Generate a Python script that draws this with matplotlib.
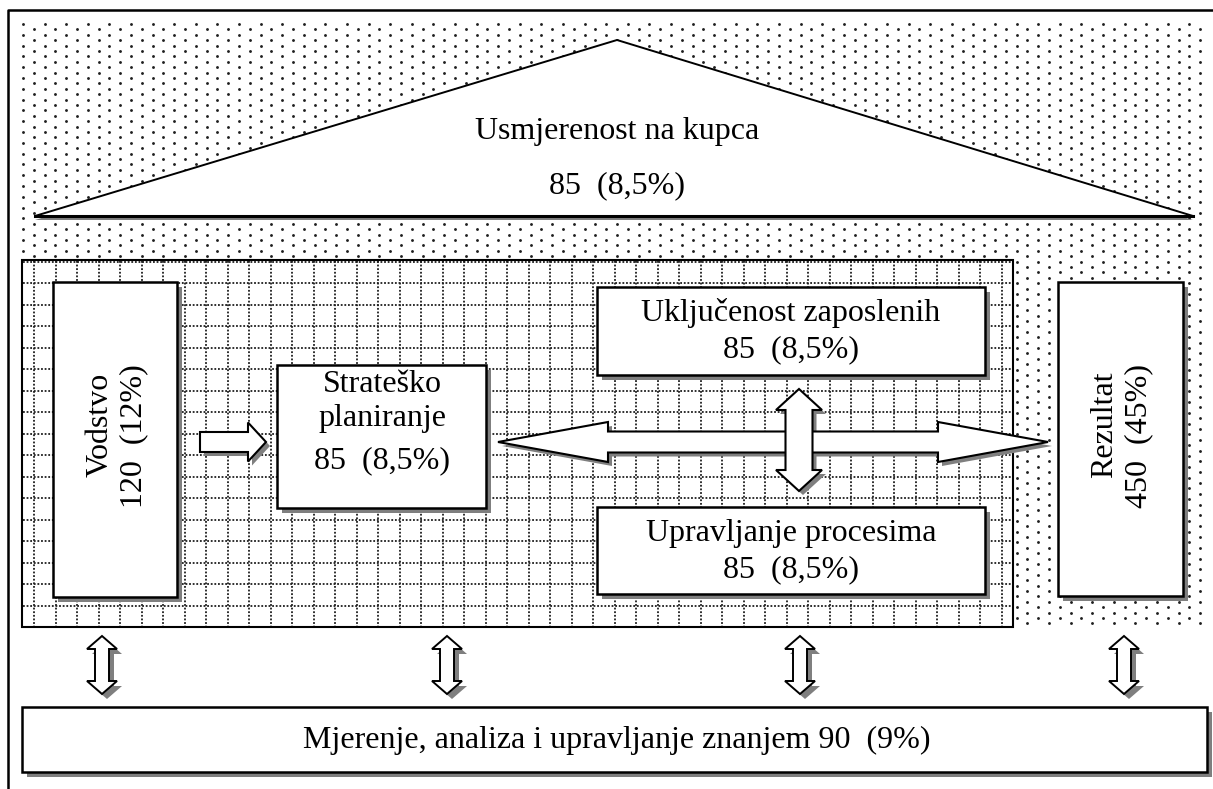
import numpy as np
import matplotlib
matplotlib.use("Agg")
import matplotlib.pyplot as plt
from matplotlib.patches import Polygon, Rectangle

# chart content
ELEMENTS = [
    "Usmjerenost na kupca",
    "Vodstvo",
    "Strateško planiranje",
    "Uključenost zaposlenih",
    "Upravljanje procesima",
    "Rezultat",
    "Mjerenje, analiza i upravljanje znanjem",
]
POINTS = [85, 120, 85, 85, 85, 450, 90]
TOTAL = 1000

W, H = 1213, 789
SHADOW = "#7f7f7f"
DOT = "#1e1e1e"
FONT = "Liberation Serif"
FS = 23


def share(p):
    return f"{p * 100 / TOTAL:g}".replace(".", ",") + "%"


def score(i):
    return f"{POINTS[i]}  ({share(POINTS[i])})"


def box(ax, x0, y0, x1, y1, shadow=5, lw=1.8, z=5):
    if shadow:
        ax.add_patch(Rectangle((x0 + shadow, y0 + shadow), x1 - x0, y1 - y0,
                               facecolor=SHADOW, edgecolor="none", zorder=z))
    ax.add_patch(Rectangle((x0, y0), x1 - x0, y1 - y0, facecolor="white",
                           edgecolor="black", lw=lw, zorder=z + 0.5))


def shape(ax, pts, shadow=(4, 4), lw=1.5, z=7):
    pts = np.asarray(pts, dtype=float)
    ax.add_patch(Polygon(pts + np.array(shadow), closed=True, facecolor=SHADOW,
                         edgecolor="none", zorder=z))
    ax.add_patch(Polygon(pts, closed=True, facecolor="white", edgecolor="black",
                         lw=lw, joinstyle="miter", zorder=z + 0.5))


def h_arrow(x0, x1, yc, body, head, head_len, left_head=True):
    # x0 = left end (tip if left_head), x1 = right tip
    pts = []
    if left_head:
        pts += [(x0, yc), (x0 + head_len, yc - head), (x0 + head_len, yc - body)]
    else:
        pts += [(x0, yc - body)]
    pts += [(x1 - head_len, yc - body), (x1 - head_len, yc - head), (x1, yc),
            (x1 - head_len, yc + head), (x1 - head_len, yc + body)]
    if left_head:
        pts += [(x0 + head_len, yc + body), (x0 + head_len, yc + head)]
    else:
        pts += [(x0, yc + body)]
    return pts


def v_arrow(xc, y0, y1, body, head, head_len):
    return [(xc, y0), (xc + head, y0 + head_len), (xc + body, y0 + head_len),
            (xc + body, y1 - head_len), (xc + head, y1 - head_len), (xc, y1),
            (xc - head, y1 - head_len), (xc - body, y1 - head_len),
            (xc - body, y0 + head_len), (xc - head, y0 + head_len)]


def label(ax, x, y, s, **kw):
    ax.text(x, y, s, ha="center", va="center", family=FONT, fontsize=FS,
            zorder=9, **kw)


fig = plt.figure(figsize=(W / 100, H / 100), dpi=100)
ax = fig.add_axes([0, 0, 1, 1])
ax.set_xlim(0, W)
ax.set_ylim(H, 0)
ax.axis("off")

# outer frame (cut at right and bottom)
ax.plot([8, 8, W + 5], [H + 5, 10, 10], color="black", lw=1.8, zorder=10)

# stippled background
xs, ys = [], []
for r, y in enumerate(np.arange(24, 626, 5.4)):
    off = 0 if r % 2 == 0 else 10.8
    for x in np.arange(23 + off, 1206, 21.6):
        xs.append(x)
        ys.append(y)
ax.scatter(xs, ys, s=4.2, color=DOT, marker="o", linewidths=0, zorder=1)

# roof: customer focus
roof = np.array([(617, 40), (1193, 216), (35, 216)])
ax.add_patch(Polygon(roof + np.array([0, 4]), closed=True, facecolor=SHADOW,
                     edgecolor="none", zorder=2))
ax.add_patch(Polygon(roof, closed=True, facecolor="white", edgecolor="black",
                     lw=1.4, zorder=2.5))
ax.plot([35, 1193], [216, 216], color="black", lw=2.2, zorder=2.6)
label(ax, 617, 131, ELEMENTS[0])
label(ax, 617, 186, score(0))

# gridded frame
gx0, gy0, gx1, gy1 = 22, 260, 1013, 627
ax.add_patch(Rectangle((gx0, gy0), gx1 - gx0, gy1 - gy0, facecolor="white",
                       edgecolor="none", zorder=2))
step = 21.5
for x in np.arange(12.5 + step, gx1, step):
    ax.plot([x, x], [gy0 + 1, gy1 - 1], color=DOT, lw=1.3,
            ls=(0, (1, 1.0)), zorder=3)
for y in np.arange(261.5, gy1, step):
    ax.plot([gx0 + 1, gx1 - 1], [y, y], color=DOT, lw=1.3,
            ls=(0, (1, 1.0)), zorder=3)
ax.add_patch(Rectangle((gx0, gy0), gx1 - gx0, gy1 - gy0, facecolor="none",
                       edgecolor="black", lw=1.5, zorder=4))

# Vodstvo
box(ax, 53, 282, 177, 597)
label(ax, 100, 425, ELEMENTS[1], rotation=90)
label(ax, 134, 436, score(1), rotation=90)

# Strateško planiranje
box(ax, 277, 365, 486, 508)
word1, word2 = ELEMENTS[2].split(" ")
label(ax, 382, 384, word1)
label(ax, 382, 418, word2)
label(ax, 382, 461, score(2))

# Uključenost zaposlenih
box(ax, 597, 287, 985, 375)
label(ax, 791, 313, ELEMENTS[3])
label(ax, 791, 350, score(3))

# Upravljanje procesima
box(ax, 597, 507, 985, 594)
label(ax, 791, 533, ELEMENTS[4])
label(ax, 791, 570, score(4))

# Rezultat
box(ax, 1058, 282, 1183, 596)
label(ax, 1105, 425, ELEMENTS[5], rotation=90)
label(ax, 1139, 436, score(5), rotation=90)

# arrows
shape(ax, h_arrow(200, 266, 442, 10, 19.5, 18, left_head=False))
shape(ax, h_arrow(498, 1048, 442, 10.5, 20, 110))
shape(ax, v_arrow(799, 389, 491, 13.5, 23, 21))
for xc in [102, 447, 800, 1124]:
    shape(ax, v_arrow(xc, 636, 694, 7, 15, 13), shadow=(5, 5), lw=1.4)

# measurement base
box(ax, 22, 707, 1207, 772)
label(ax, 617, 740, f"{ELEMENTS[6]} {score(6)}")

fig.savefig("out.png", dpi=100)
